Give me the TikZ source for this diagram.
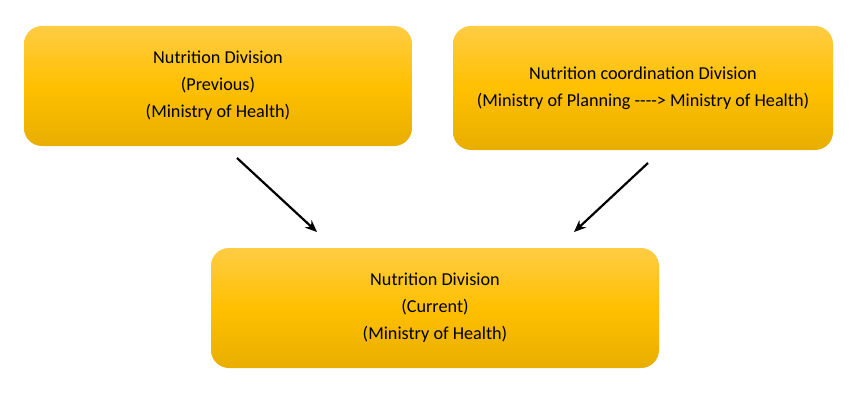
\documentclass[tikz,border=0pt]{standalone}
\usepackage{fontspec}
\setmainfont{Carlito}
\usetikzlibrary{arrows.meta}
\begin{document}
\begin{tikzpicture}[x=1pt,y=-1pt]
\definecolor{boxtop}{HTML}{FFCC44}
\definecolor{boxmid}{HTML}{FFC000}
\definecolor{boxbot}{HTML}{E8AE00}
\tikzset{box/.style={rounded corners=18pt, top color=boxtop, bottom color=boxbot, middle color=boxmid,
    inner sep=0pt, align=center, font=\fontsize{18.2}{27}\selectfont, text=black},
  conn/.style={-{Stealth[length=12pt,width=10pt]}, line width=2.2pt, black}}
\useasboundingbox (0,0) rectangle (861,401);
\node[box, minimum width=388pt, minimum height=120pt] (prev) at (218,86)
  {Nutrition Division\\(Previous)\\(Ministry of Health)};
\node[box, minimum width=380pt, minimum height=124pt] (coord) at (643,88)
  {Nutrition coordination Division\\(Ministry of Planning -{}-{}-{}-> Ministry of Health)};
\node[box, minimum width=448pt, minimum height=120pt] (cur) at (435,308)
  {Nutrition Division\\(Current)\\(Ministry of Health)};
\coordinate (a1s) at (237,158);
\coordinate (a1e) at (317,232);
\coordinate (a2s) at (648,163);
\coordinate (a2e) at (574,232);
\draw[conn] (a1s) -- (a1e);
\draw[conn] (a2s) -- (a2e);
\end{tikzpicture}
\end{document}
